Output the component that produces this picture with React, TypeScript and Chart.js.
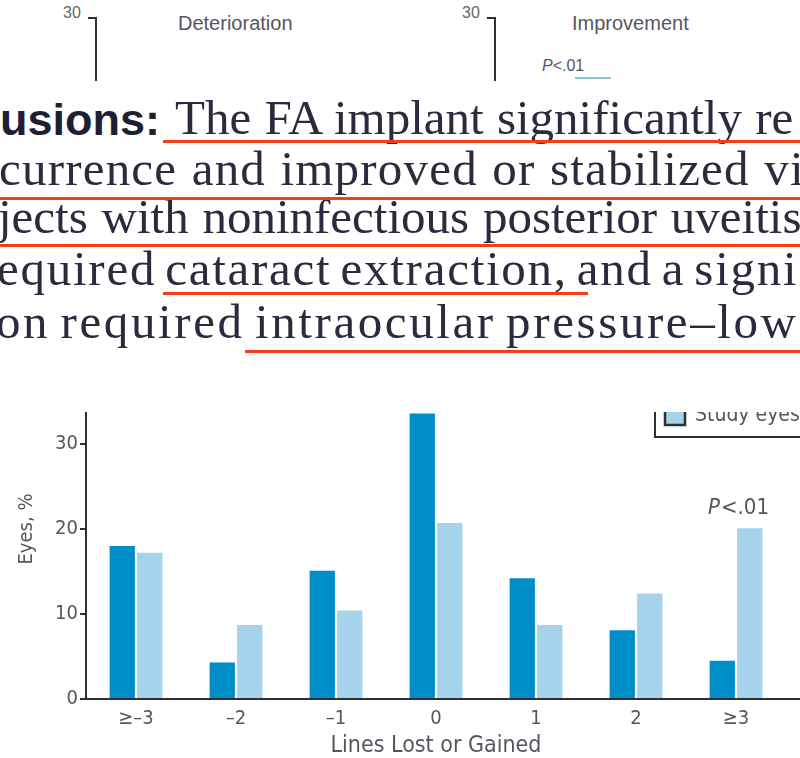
import React, { useEffect, useRef } from "react";
import { Chart, registerables } from "chart.js";

Chart.register(...registerables);

// ---------- data ----------
const categories = ["≥–3", "–2", "–1", "0", "1", "2", "≥3"];
const fellowEyes = [18.0, 4.3, 15.1, 33.6, 14.2, 8.1, 4.5];
const studyEyes = [17.2, 8.7, 10.4, 20.7, 8.7, 12.4, 20.1];
const seriesLabels = ["Fellow eyes", "Study eyes"];
const yTickValues = [0, 10, 20, 30];
const yTitle = "Eyes, %";
const xTitle = "Lines Lost or Gained";
const pNoteIndex = 6;
const pNoteItalic = "P";
const pNoteRest = "<.01";

const topPanelTick = "30";
const topPanelTitles = ["Deterioration", "Improvement"];
const topPanelNote = "P<.01";

const boldLead = "usions:";
const paragraphLines = [
  "The FA implant significantly re",
  "currence and improved or stabilized vi",
  "jects with noninfectious posterior uveitis",
  "equired cataract extraction, and a signi",
  "on required intraocular pressure–low",
];

// ---------- styles ----------
const COND = '"DejaVu Sans Condensed", "Liberation Sans", Arial, sans-serif';
const SANS = '"Liberation Sans", Arial, sans-serif';
const SERIF = '"Liberation Serif", "DejaVu Serif", serif';
const DARK = "rgb(0,142,200)";
const LIGHT = "rgb(164,211,235)";
const AXIS = "#2f2f33";
const TEXT = "#55565f";
const RED = "rgb(244,62,22)";
const INK = "#2b2b40";

const CROP_TOP = 412; // page y where the chart strip starts
const ZERO_Y = 699; // page y of the zero line
const X_AXIS_H = 59;
const PLOT_H = 340; // 40 units

const extendAxisPlugin = {
  id: "extendAxis",
  afterDraw(chart: any) {
    const { ctx, chartArea } = chart;
    ctx.save();
    ctx.strokeStyle = AXIS;
    ctx.lineWidth = 2;
    ctx.beginPath();
    ctx.moveTo(chartArea.right - 1, chartArea.bottom);
    ctx.lineTo(chart.width, chartArea.bottom);
    ctx.stroke();
    ctx.restore();
  },
};

const pNotePlugin = {
  id: "pNote",
  afterDatasetsDraw(chart: any) {
    const { ctx } = chart;
    const xs = chart.scales.x;
    const ys = chart.scales.y;
    const cx = xs.getPixelForValue(pNoteIndex) + 2;
    const top = Math.max(fellowEyes[pNoteIndex], studyEyes[pNoteIndex]);
    const y = ys.getPixelForValue(top) - 14;
    ctx.save();
    ctx.fillStyle = TEXT;
    ctx.textBaseline = "alphabetic";
    const italicFont = `italic 22px ${COND}`;
    const normalFont = `22px ${COND}`;
    ctx.font = italicFont;
    const w1 = ctx.measureText(pNoteItalic).width;
    ctx.font = normalFont;
    const w2 = ctx.measureText(pNoteRest).width;
    const x0 = cx - (w1 + w2) / 2;
    ctx.font = italicFont;
    ctx.fillText(pNoteItalic, x0, y);
    ctx.font = normalFont;
    ctx.fillText(pNoteRest, x0 + w1 + 1, y);
    ctx.restore();
  },
};

const boxLegendPlugin = {
  id: "boxLegend",
  afterDraw(chart: any) {
    const { ctx, chartArea } = chart;
    const ds = chart.data.datasets;
    const left = chartArea.right - 131;
    const rowH = 26;
    const lastRowY = chartArea.top + 58;
    const bottom = lastRowY + 20;
    const top = lastRowY - (ds.length - 1) * rowH - 20;
    ctx.save();
    ctx.strokeStyle = AXIS;
    ctx.lineWidth = 2;
    ctx.strokeRect(left, top, 400, bottom - top);
    ds.forEach((d: any, i: number) => {
      const cy = lastRowY - (ds.length - 1 - i) * rowH;
      ctx.fillStyle = d.backgroundColor;
      ctx.fillRect(left + 10, cy - 9, 20, 17);
      ctx.strokeStyle = AXIS;
      ctx.lineWidth = 2.5;
      ctx.strokeRect(left + 10, cy - 9, 20, 17);
      ctx.fillStyle = TEXT;
      ctx.font = `21px ${COND}`;
      ctx.textBaseline = "middle";
      ctx.fillText(d.label, left + 40, cy - 1);
    });
    ctx.restore();
  },
};

function BarChart() {
  const ref = useRef<HTMLCanvasElement | null>(null);
  useEffect(() => {
    const canvas = ref.current;
    if (!canvas) return;
    const chart = new Chart(canvas, {
      type: "bar",
      data: {
        labels: categories,
        datasets: [
          { label: seriesLabels[0], data: fellowEyes, backgroundColor: DARK, borderWidth: 0 },
          { label: seriesLabels[1], data: studyEyes, backgroundColor: LIGHT, borderWidth: 0 },
        ],
      },
      options: {
        animation: false,
        responsive: false,
        maintainAspectRatio: false,
        layout: { padding: { left: 0, right: 14, top: 0, bottom: 0 } },
        datasets: { bar: { categoryPercentage: 0.55, barPercentage: 0.92 } },
        plugins: { legend: { display: false }, tooltip: { enabled: false }, title: { display: false } },
        scales: {
          x: {
            grid: { display: false, drawTicks: false },
            border: { display: true, color: AXIS, width: 2 },
            ticks: { color: TEXT, font: { family: COND, size: 20 }, padding: 8 },
            title: {
              display: true,
              text: xTitle,
              color: TEXT,
              font: { family: COND, size: 23, lineHeight: 1 },
              padding: 0,
            },
            afterFit: (s: any) => {
              s.height = X_AXIS_H;
            },
          },
          y: {
            min: 0,
            max: 40,
            ticks: {
              stepSize: 10,
              color: TEXT,
              font: { family: COND, size: 20 },
              padding: 2,
              callback: (v: any) => (yTickValues.includes(Number(v)) ? String(v) : ""),
            },
            grid: { drawOnChartArea: false, drawTicks: true, tickLength: 6, color: AXIS, lineWidth: 2 },
            border: { display: true, color: AXIS, width: 2 },
            title: {
              display: true,
              text: yTitle,
              color: TEXT,
              font: { family: COND, size: 20, lineHeight: 1.2 },
              padding: { top: 15, bottom: 0 },
            },
            afterFit: (s: any) => {
              s.width = 86;
            },
          },
        },
      },
      plugins: [extendAxisPlugin, pNotePlugin, boxLegendPlugin],
    });
    // size the canvas so the plot keeps the reference scale and zero line
    const t0 = chart.chartArea.top;
    const h = Math.round(t0 + PLOT_H + X_AXIS_H);
    chart.resize(800, h);
    const zeroInCanvas = chart.scales.y.getPixelForValue(0);
    canvas.style.top = `${ZERO_Y - CROP_TOP - zeroInCanvas}px`;
    return () => chart.destroy();
  }, []);
  return <canvas ref={ref} width={800} height={414} style={{ position: "absolute", left: 0, top: -68, width: 800, height: 414 }} />;
}

function TopPanel({ x, title, titleX, note }: { x: number; title: string; titleX: number; note?: boolean }) {
  return (
    <>
      <div style={{ position: "absolute", left: x - 33, top: 5, font: `16px/1 ${SANS}`, color: "#666" }}>{topPanelTick}</div>
      <div style={{ position: "absolute", left: x - 8, top: 17, width: 8, height: 2, background: AXIS }} />
      <div style={{ position: "absolute", left: x - 1, top: 17, width: 2, height: 64, background: AXIS }} />
      <div style={{ position: "absolute", left: titleX, top: 13, font: `20px/1 ${SANS}`, color: TEXT, whiteSpace: "nowrap" }}>{title}</div>
      {note ? (
        <>
          <div style={{ position: "absolute", left: 542, top: 58, font: `16px/1 ${SANS}`, color: TEXT, whiteSpace: "nowrap" }}>
            <i>{topPanelNote.slice(0, 1)}</i>
            {topPanelNote.slice(1)}
          </div>
          <div style={{ position: "absolute", left: 575, top: 77, width: 36, height: 2, background: "#8cc4e0" }} />
        </>
      ) : null}
    </>
  );
}

const lineStyle = (top: number, left: number, ls: number, ws: number) => ({
  position: "absolute" as const,
  top,
  left,
  font: `49px/1 ${SERIF}`,
  color: INK,
  whiteSpace: "pre" as const,
  letterSpacing: `${ls}px`,
  wordSpacing: `${ws}px`,
});

const underline = (top: number, left: number, right: number) => (
  <div style={{ position: "absolute", top, left, width: right - left, height: 3, background: RED }} />
);

export default function App() {
  return (
    <div style={{ position: "absolute", left: 0, top: 0, width: 800, height: 758, overflow: "hidden", background: "#fff" }}>
      <TopPanel x={96} title={topPanelTitles[0]} titleX={178} />
      <TopPanel x={495} title={topPanelTitles[1]} titleX={572} note />

      <div style={{ position: "absolute", top: 97, left: 0, font: `bold 45px/1 ${SANS}`, color: "#1e1e34", whiteSpace: "pre" }}>{boldLead}</div>
      <div style={lineStyle(93, 175, 0, 1)}>{paragraphLines[0]}</div>
      <div style={lineStyle(144, -1, 1.2, 1)}>{paragraphLines[1]}</div>
      <div style={lineStyle(192, -2, 0, 1.5)}>{paragraphLines[2]}</div>
      <div style={lineStyle(244, -3, 1.75, -5)}>{paragraphLines[3]}</div>
      <div style={lineStyle(297, -4, 2.6, -4.5)}>{paragraphLines[4]}</div>
      {underline(140, 163, 800)}
      {underline(197, 0, 800)}
      {underline(244, 0, 800)}
      {underline(292, 163, 588)}
      {underline(350, 245, 800)}

      <div style={{ position: "absolute", left: 0, top: CROP_TOP, width: 800, height: 758 - CROP_TOP, overflow: "hidden" }}>
        <BarChart />
      </div>
    </div>
  );
}
